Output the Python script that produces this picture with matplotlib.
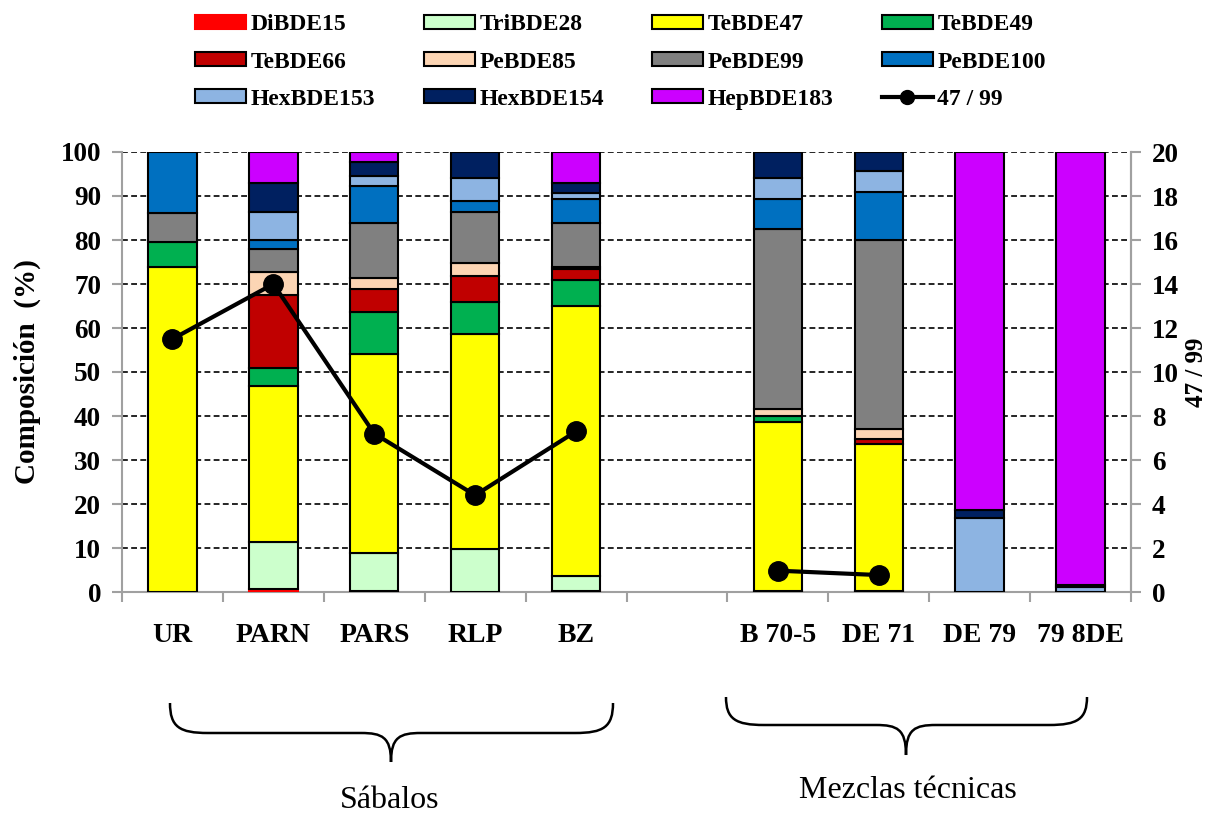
import numpy as np
import matplotlib
matplotlib.use("Agg")
import matplotlib.pyplot as plt
from matplotlib.path import Path
from matplotlib.patches import PathPatch, Patch
from matplotlib.lines import Line2D

plt.rcParams['font.family'] = ['Liberation Serif', 'DejaVu Serif']

categories = ["UR", "PARN", "PARS", "RLP", "BZ", "", "B 70-5", "DE 71", "DE 79", "79 8DE"]

congeners = ["DiBDE15", "TriBDE28", "TeBDE47", "TeBDE49", "TeBDE66", "PeBDE85",
             "PeBDE99", "PeBDE100", "HexBDE153", "HexBDE154", "HepBDE183"]
colors = ["#FF0000", "#CCFFCC", "#FFFF00", "#00B050", "#C00000", "#FCD5B4",
          "#808080", "#0070C0", "#8DB4E2", "#002060", "#CC00FF"]

DiBDE15   = [0.0, 0.7, 0.3, 0.0, 0.3, 0, 0.0, 0.0, 0.0, 0.0]
TriBDE28  = [0.0, 10.7, 8.6, 9.7, 3.3, 0, 0.3, 0.3, 0.0, 0.0]
TeBDE47   = [73.9, 35.5, 45.3, 48.9, 61.4, 0, 38.4, 33.3, 0.0, 0.0]
TeBDE49   = [5.7, 3.9, 9.5, 7.2, 5.9, 0, 1.2, 0.0, 0.0, 0.0]
TeBDE66   = [0.0, 16.7, 5.1, 6.1, 2.5, 0, 0.0, 1.2, 0.0, 0.0]
PeBDE85   = [0.0, 5.2, 2.6, 2.9, 0.5, 0, 1.8, 2.2, 0.0, 0.0]
PeBDE99   = [6.5, 5.2, 12.5, 11.6, 10.0, 0, 40.8, 43.0, 0.0, 0.0]
PeBDE100  = [13.9, 2.1, 8.4, 2.5, 5.4, 0, 6.8, 11.0, 0.0, 0.0]
HexBDE153 = [0.0, 6.4, 2.2, 5.1, 1.3, 0, 4.7, 4.7, 16.9, 1.1]
HexBDE154 = [0.0, 6.5, 3.2, 6.0, 2.3, 0, 6.0, 4.3, 1.7, 0.5]
HepBDE183 = [0.0, 7.1, 2.3, 0.0, 7.1, 0, 0.0, 0.0, 81.4, 98.4]

ratio_47_99 = [11.5, 14.0, 7.2, 4.4, 7.3, np.nan, 0.97, 0.77, np.nan, np.nan]

series = [DiBDE15, TriBDE28, TeBDE47, TeBDE49, TeBDE66, PeBDE85,
          PeBDE99, PeBDE100, HexBDE153, HexBDE154, HepBDE183]

W, H = 1217, 816
fig = plt.figure(figsize=(W / 100, H / 100), dpi=100)
ax = fig.add_axes([122 / W, 1 - 592 / H, (1131 - 122) / W, (592 - 152) / H])

x = np.arange(len(categories))
bottom = np.zeros(len(categories))
handles = []
for name, vals, col in zip(congeners, series, colors):
    vals = np.array(vals, dtype=float)
    ec = col if name == "DiBDE15" else "black"
    m = vals > 0
    ax.bar(x[m], vals[m], width=0.48, bottom=bottom[m], color=col, edgecolor=ec,
           linewidth=1.5, zorder=3)
    bottom += vals
    handles.append(Patch(facecolor=col, edgecolor=ec, linewidth=1.5, label=name))

ax.set_xlim(-0.5, len(categories) - 0.5)
ax.set_ylim(0, 100)
ax.set_yticks(np.arange(0, 101, 10))
ax.yaxis.grid(True, linestyle=(0, (3.5, 2)), color="black", linewidth=1.2, zorder=0)
ax.set_axisbelow(True)
ax.set_xticks(x)
ax.set_xticklabels(categories, fontsize=20, fontweight="bold")
ax.set_xticks(np.arange(-0.5, len(categories), 1), minor=True)
ax.tick_params(axis="x", which="major", length=0, pad=22)
ax.tick_params(axis="x", which="minor", length=7, color="#A0A0A0", width=1.5)
ax.tick_params(axis="y", length=7, color="#A0A0A0", width=1.5, labelsize=19.5, pad=8)
for lab in ax.get_yticklabels():
    lab.set_fontweight("bold")
ax.spines["top"].set_visible(False)
for s in ["left", "right", "bottom"]:
    ax.spines[s].set_color("#A0A0A0")
    ax.spines[s].set_linewidth(1.5)
ax.set_ylabel("Composición  (%)", fontsize=21, fontweight="bold", labelpad=14)

ax2 = ax.twinx()
ax2.set_ylim(0, 20)
ax2.set_yticks(np.arange(0, 21, 2))
ax2.plot(x, ratio_47_99, color="black", linewidth=3, marker="o", markersize=14, zorder=5)
ax2.tick_params(axis="y", length=7, color="#A0A0A0", width=1.5, labelsize=19.5, pad=8)
for lab in ax2.get_yticklabels():
    lab.set_fontweight("bold")
for s in ["top", "left", "bottom"]:
    ax2.spines[s].set_visible(False)
ax2.spines["right"].set_color("#A0A0A0")
ax2.spines["right"].set_linewidth(1.5)
ax2.set_ylabel("47 / 99", fontsize=18, fontweight="bold", labelpad=4)

line_handle = Line2D([], [], color="black", linewidth=3, marker="o", markersize=10, label="47 / 99")
all_h = handles + [line_handle]
grid = [all_h[r * 4:(r + 1) * 4] for r in range(3)]
ordered = [grid[r][c] for c in range(4) for r in range(3)]
fig.legend(handles=ordered, labels=[h.get_label() for h in ordered], ncol=4,
           loc="upper left", bbox_to_anchor=(186 / W, 1 - 5 / H), frameon=False,
           prop={"size": 17, "weight": "bold"}, handlelength=2.15, handleheight=0.5,
           handletextpad=0.2, columnspacing=2.05, labelspacing=0.68, borderaxespad=0)


def brace(x0, x1, xm, ytop, ymid, ybot, r=38, r2=30):
    pts = [(x0, ytop), (x0, ymid - 6), (x0 + r * 0.25, ymid), (x0 + r, ymid),
           (xm - r2, ymid),
           (xm - r2 * 0.3, ymid), (xm, ymid + 4), (xm, ybot),
           (xm, ymid + 4), (xm + r2 * 0.3, ymid), (xm + r2, ymid),
           (x1 - r, ymid),
           (x1 - r * 0.25, ymid), (x1, ymid - 6), (x1, ytop)]
    codes = [Path.MOVETO, Path.CURVE4, Path.CURVE4, Path.CURVE4,
             Path.LINETO,
             Path.CURVE4, Path.CURVE4, Path.CURVE4,
             Path.CURVE4, Path.CURVE4, Path.CURVE4,
             Path.LINETO,
             Path.CURVE4, Path.CURVE4, Path.CURVE4]
    verts = [(px / W, 1 - py / H) for px, py in pts]
    fig.add_artist(PathPatch(Path(verts, codes), facecolor="none", edgecolor="black",
                             linewidth=1.8, transform=fig.transFigure))


brace(170, 613, 391, 703, 733, 762)
brace(726, 1087, 906, 697, 725, 755)
fig.text(390 / W, 1 - 800 / H, "Sábalos", ha="center", va="center", fontsize=23)
fig.text(908 / W, 1 - 790 / H, "Mezclas técnicas", ha="center", va="center", fontsize=23)

fig.savefig("out.png", dpi=100)
